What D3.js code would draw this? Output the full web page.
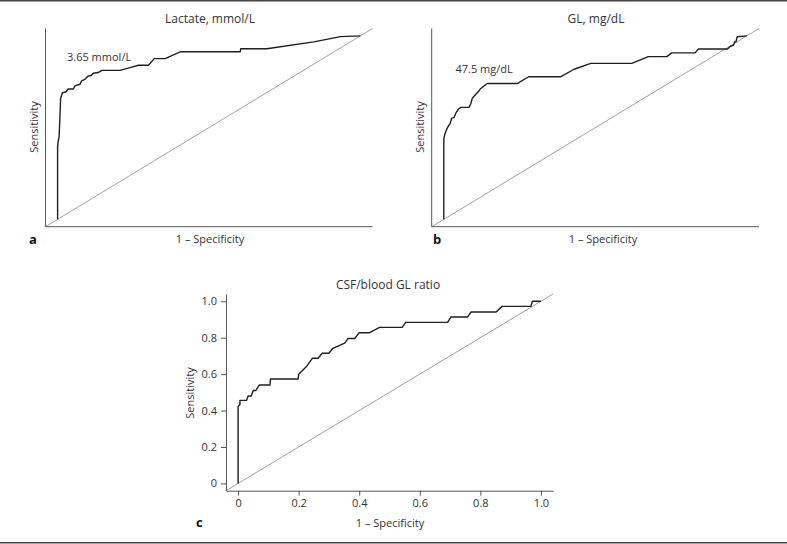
<!DOCTYPE html>
<html>
<head>
<meta charset="utf-8">
<script src="https://cdn.jsdelivr.net/npm/d3@7"></script>
<style>
  html, body { margin: 0; padding: 0; background: #fff; }
  svg { display: block; font-family: "Open Sans", "Noto Sans", sans-serif; }
</style>
</head>
<body>
<svg id="chart" width="787" height="544"></svg>
<script>
// ---- Data (1 - Specificity, Sensitivity) ----
const lactateFPR = [0, 0, 0.002, 0.005, 0.010, 0.016, 0.027, 0.035, 0.052, 0.057, 0.074, 0.079, 0.090, 0.100, 0.112, 0.118, 0.134, 0.146, 0.206, 0.239, 0.267, 0.300, 0.319, 0.355, 0.405, 0.603, 0.605, 0.691, 0.846, 0.934, 1.0];
const lactateTPR = [0, 0.400, 0.426, 0.450, 0.660, 0.690, 0.694, 0.710, 0.710, 0.727, 0.736, 0.754, 0.763, 0.780, 0.785, 0.796, 0.800, 0.812, 0.812, 0.827, 0.840, 0.840, 0.876, 0.876, 0.913, 0.913, 0.930, 0.930, 0.967, 0.996, 1.0];

const glFPR = [0, 0, 0.004, 0.012, 0.020, 0.026, 0.034, 0.040, 0.048, 0.056, 0.083, 0.089, 0.094, 0.110, 0.116, 0.120, 0.143, 0.242, 0.280, 0.385, 0.430, 0.485, 0.620, 0.675, 0.736, 0.752, 0.829, 0.840, 0.936, 0.945, 0.956, 0.960, 0.964, 0.968, 1.0];
const glTPR = [0, 0.440, 0.468, 0.500, 0.520, 0.550, 0.556, 0.580, 0.600, 0.610, 0.610, 0.630, 0.660, 0.690, 0.700, 0.710, 0.740, 0.740, 0.777, 0.777, 0.818, 0.850, 0.850, 0.887, 0.887, 0.907, 0.907, 0.928, 0.928, 0.942, 0.950, 0.968, 0.968, 0.995, 1.0];

const ratioFPR = [0, 0, 0.006, 0.006, 0.028, 0.033, 0.043, 0.050, 0.058, 0.070, 0.105, 0.107, 0.198, 0.200, 0.225, 0.245, 0.264, 0.278, 0.300, 0.313, 0.352, 0.363, 0.385, 0.400, 0.433, 0.467, 0.542, 0.553, 0.692, 0.703, 0.758, 0.769, 0.852, 0.872, 0.967, 0.972, 1.0];
const ratioTPR = [0, 0.423, 0.433, 0.456, 0.456, 0.480, 0.480, 0.510, 0.510, 0.540, 0.540, 0.573, 0.573, 0.600, 0.640, 0.687, 0.687, 0.715, 0.715, 0.742, 0.770, 0.796, 0.796, 0.827, 0.827, 0.857, 0.857, 0.884, 0.884, 0.914, 0.914, 0.941, 0.941, 0.972, 0.972, 1.0, 1.0];

const tickValues = [0, 0.2, 0.4, 0.6, 0.8, 1.0];
const tickLabels = ["0", "0.2", "0.4", "0.6", "0.8", "1.0"];

const panelTitles = ["Lactate, mmol/L", "GL, mg/dL", "CSF/blood GL ratio"];
const panelLetters = ["a", "b", "c"];
const cutoffLabels = ["3.65 mmol/L", "47.5 mg/dL", null];
const xTitle = "1 \u2013 Specificity";
const yTitle = "Sensitivity";

// ---- Drawing ----
const svg = d3.select("#chart");
const textColor = "#333";

// frame rules (top and bottom)
svg.append("line").attr("x1", 0).attr("x2", 787).attr("y1", 0.75).attr("y2", 0.75)
  .attr("stroke", "#444").attr("stroke-width", 1.5);
svg.append("line").attr("x1", 0).attr("x2", 787).attr("y1", 542.75).attr("y2", 542.75)
  .attr("stroke", "#444").attr("stroke-width", 1.5);

const panels = [
  { fpr: lactateFPR, tpr: lactateTPR, x: [45.5, 372.5], y: [226.7, 28.5], ticks: false,
    titleX: 210, titleY: 22.5, xlabX: 210, xlabY: 242.5, ylabX: 38, ylabY: 127,
    letterX: 29, letterY: 244, cutX: 67, cutY: 61 },
  { fpr: glFPR, tpr: glTPR, x: [431.7, 759], y: [226.7, 28.5], ticks: false,
    titleX: 596, titleY: 22.5, xlabX: 603, xlabY: 242.5, ylabX: 424, ylabY: 127,
    letterX: 433, letterY: 244, cutX: 455.5, cutY: 72.5 },
  { fpr: ratioFPR, tpr: ratioTPR, x: [226, 553], y: [490.7, 294], ticks: true,
    titleX: 388, titleY: 289, xlabX: 390, xlabY: 527, ylabX: 194, ylabY: 393,
    letterX: 196, letterY: 527, cutX: null, cutY: null }
];

panels.forEach((p, i) => {
  const x = d3.scaleLinear().domain([-0.04, 1.04]).range(p.x);
  const y = d3.scaleLinear().domain([-0.04, 1.04]).range(p.y);
  const g = svg.append("g");

  // diagonal reference
  g.append("line")
    .attr("x1", x(-0.04)).attr("y1", y(-0.04))
    .attr("x2", x(1.04)).attr("y2", y(1.04))
    .attr("stroke", "#a0a0a0").attr("stroke-width", 1);

  if (p.ticks) {
    const xAxis = d3.axisBottom(x).tickValues(tickValues)
      .tickFormat((d, k) => tickLabels[k]).tickSize(5).tickSizeOuter(0).tickPadding(4);
    const yAxis = d3.axisLeft(y).tickValues(tickValues)
      .tickFormat((d, k) => tickLabels[k]).tickSize(5).tickSizeOuter(0).tickPadding(4);
    const gx = g.append("g").attr("transform", `translate(0,${p.y[0]})`).call(xAxis);
    const gy = g.append("g").attr("transform", `translate(${p.x[0]},0)`).call(yAxis);
    [gx, gy].forEach(ax => {
      ax.select(".domain").attr("stroke", "#555").attr("stroke-width", 1);
      ax.selectAll(".tick line").attr("stroke", "#555");
      ax.selectAll(".tick text").attr("fill", textColor)
        .style("font-family", '"Open Sans", sans-serif').style("font-size", "11px");
    });
  } else {
    g.append("line").attr("x1", p.x[0]).attr("x2", p.x[0]).attr("y1", p.y[0]).attr("y2", p.y[1])
      .attr("stroke", "#555").attr("stroke-width", 1);
    g.append("line").attr("x1", p.x[0]).attr("x2", p.x[1]).attr("y1", p.y[0]).attr("y2", p.y[0])
      .attr("stroke", "#555").attr("stroke-width", 1);
  }

  // ROC curve
  const pts = p.fpr.map((f, k) => [f, p.tpr[k]]);
  g.append("path")
    .attr("d", d3.line().x(d => x(d[0])).y(d => y(d[1]))(pts))
    .attr("fill", "none").attr("stroke", "#1e1e1e").attr("stroke-width", 1.4)
    .attr("stroke-linejoin", "round");

  // texts
  g.append("text").attr("x", p.titleX).attr("y", p.titleY).attr("text-anchor", "middle")
    .attr("fill", textColor).style("font-size", "12px").text(panelTitles[i]);
  g.append("text").attr("x", p.xlabX).attr("y", p.xlabY).attr("text-anchor", "middle")
    .attr("fill", textColor).style("font-size", "11px").text(xTitle);
  g.append("text").attr("transform", `translate(${p.ylabX},${p.ylabY}) rotate(-90)`)
    .attr("text-anchor", "middle").attr("fill", textColor).style("font-size", "11px").text(yTitle);
  g.append("text").attr("x", p.letterX).attr("y", p.letterY)
    .attr("fill", "#111").style("font-size", "13px").style("font-weight", "bold").text(panelLetters[i]);
  if (cutoffLabels[i]) {
    g.append("text").attr("x", p.cutX).attr("y", p.cutY)
      .attr("fill", textColor).style("font-size", "11px").text(cutoffLabels[i]);
  }
});
</script>
</body>
</html>
